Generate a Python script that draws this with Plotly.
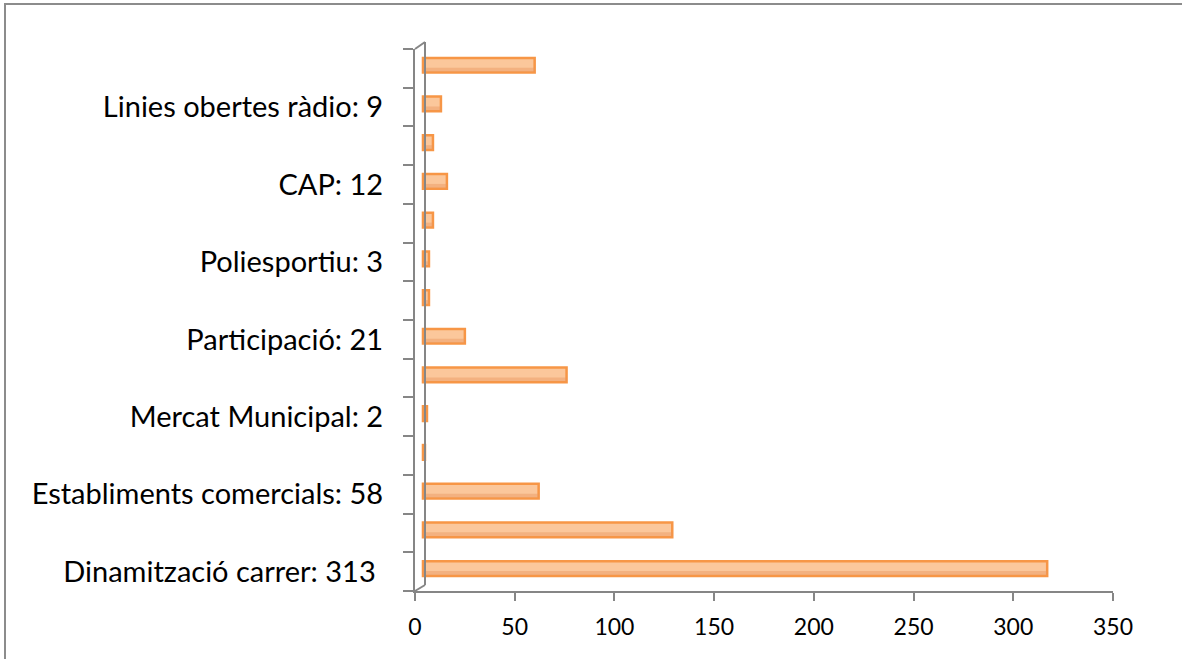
import plotly.graph_objects as go

# Data (bottom to top)
categories = ["c01", "c02", "c03", "c04", "c05", "c06", "c07",
              "c08", "c09", "c10", "c11", "c12", "c13", "c14"]
tick_labels = ["Dinamització carrer: 313\u00a0", "", "Establiments comercials: 58", "",
               "Mercat Municipal: 2", "", "Participació: 21", "",
               "Poliesportiu: 3", "", "CAP: 12", "",
               "Linies obertes ràdio: 9", ""]
values = [313, 125, 58, 1, 2, 72, 21, 3, 3, 5, 12, 5, 9, 56]
x_ticks = [0, 50, 100, 150, 200, 250, 300, 350]

W, H = 1182, 659
L, R, T, B = 415, 69, 49, 68
pw, ph = W - L - R, H - T - B
axis_col = "#868686"

fig = go.Figure()
# empty trace so the visible value axis is drawn
fig.add_trace(go.Scatter(x=[None], y=[categories[0]], mode="markers",
                         showlegend=False, hoverinfo="skip"))
fig.add_trace(go.Bar(
    y=categories, x=values, orientation="h", xaxis="x2",
    width=0.38, offset=-0.11,
    marker=dict(color="#FBC79B", line=dict(color="#F79646", width=2.5)),
    hoverinfo="x",
))
# darker lower band to suggest the cylinder shading
fig.add_trace(go.Bar(
    y=categories, x=values, orientation="h", xaxis="x2",
    width=0.1, offset=-0.085,
    marker=dict(color="rgba(232,150,96,0.45)", line=dict(width=0)),
    hoverinfo="skip",
))

def px_x(p):
    return (p - L) / pw

def px_y(p):
    return (H - B - p) / ph

shapes = [
    dict(type="line", xref="paper", yref="paper",
         x0=px_x(425), x1=px_x(425), y0=px_y(585), y1=px_y(42),
         line=dict(color=axis_col, width=2)),
    dict(type="line", xref="paper", yref="paper",
         x0=0, y0=1, x1=px_x(425), y1=px_y(42),
         line=dict(color=axis_col, width=2)),
    dict(type="line", xref="paper", yref="paper",
         x0=0, y0=0, x1=px_x(425), y1=px_y(585),
         line=dict(color=axis_col, width=2)),
    dict(type="rect", xref="paper", yref="paper",
         x0=px_x(5), y0=px_y(H + 20), x1=px_x(W + 20), y1=px_y(4),
         line=dict(color="#8C8C8C", width=2), fillcolor="rgba(0,0,0,0)", layer="below"),
]

fig.update_layout(
    width=W, height=H,
    margin=dict(l=L, r=R, t=T, b=B, autoexpand=False),
    paper_bgcolor="white", plot_bgcolor="white",
    showlegend=False, barmode="overlay",
    font=dict(family="Lato", color="black"),
    xaxis=dict(range=[0, 350], tickvals=x_ticks, ticktext=[str(v) for v in x_ticks],
               showline=True, linecolor=axis_col, linewidth=2,
               ticks="outside", ticklen=8, tickwidth=2, tickcolor=axis_col,
               showgrid=False, zeroline=False, automargin=False, ticklabelstandoff=6,
               tickfont=dict(family="Lato", size=23, color="black")),
    xaxis2=dict(range=[-4, 346], overlaying="x", visible=False),
    yaxis=dict(type="category", categoryorder="array", categoryarray=categories,
               tickvals=categories, ticktext=tick_labels, tickson="boundaries",
               range=[-0.5, 13.5], automargin=False,
               showline=True, linecolor=axis_col, linewidth=2,
               ticks="outside", ticklen=10, tickwidth=2, tickcolor=axis_col,
               showgrid=False, zeroline=False, ticklabelstandoff=24,
               tickfont=dict(family="Lato", size=29, color="black")),
    shapes=shapes,
)

fig.write_html("out.html", config={"displayModeBar": False},
               post_script="document.body.style.margin='0';")
